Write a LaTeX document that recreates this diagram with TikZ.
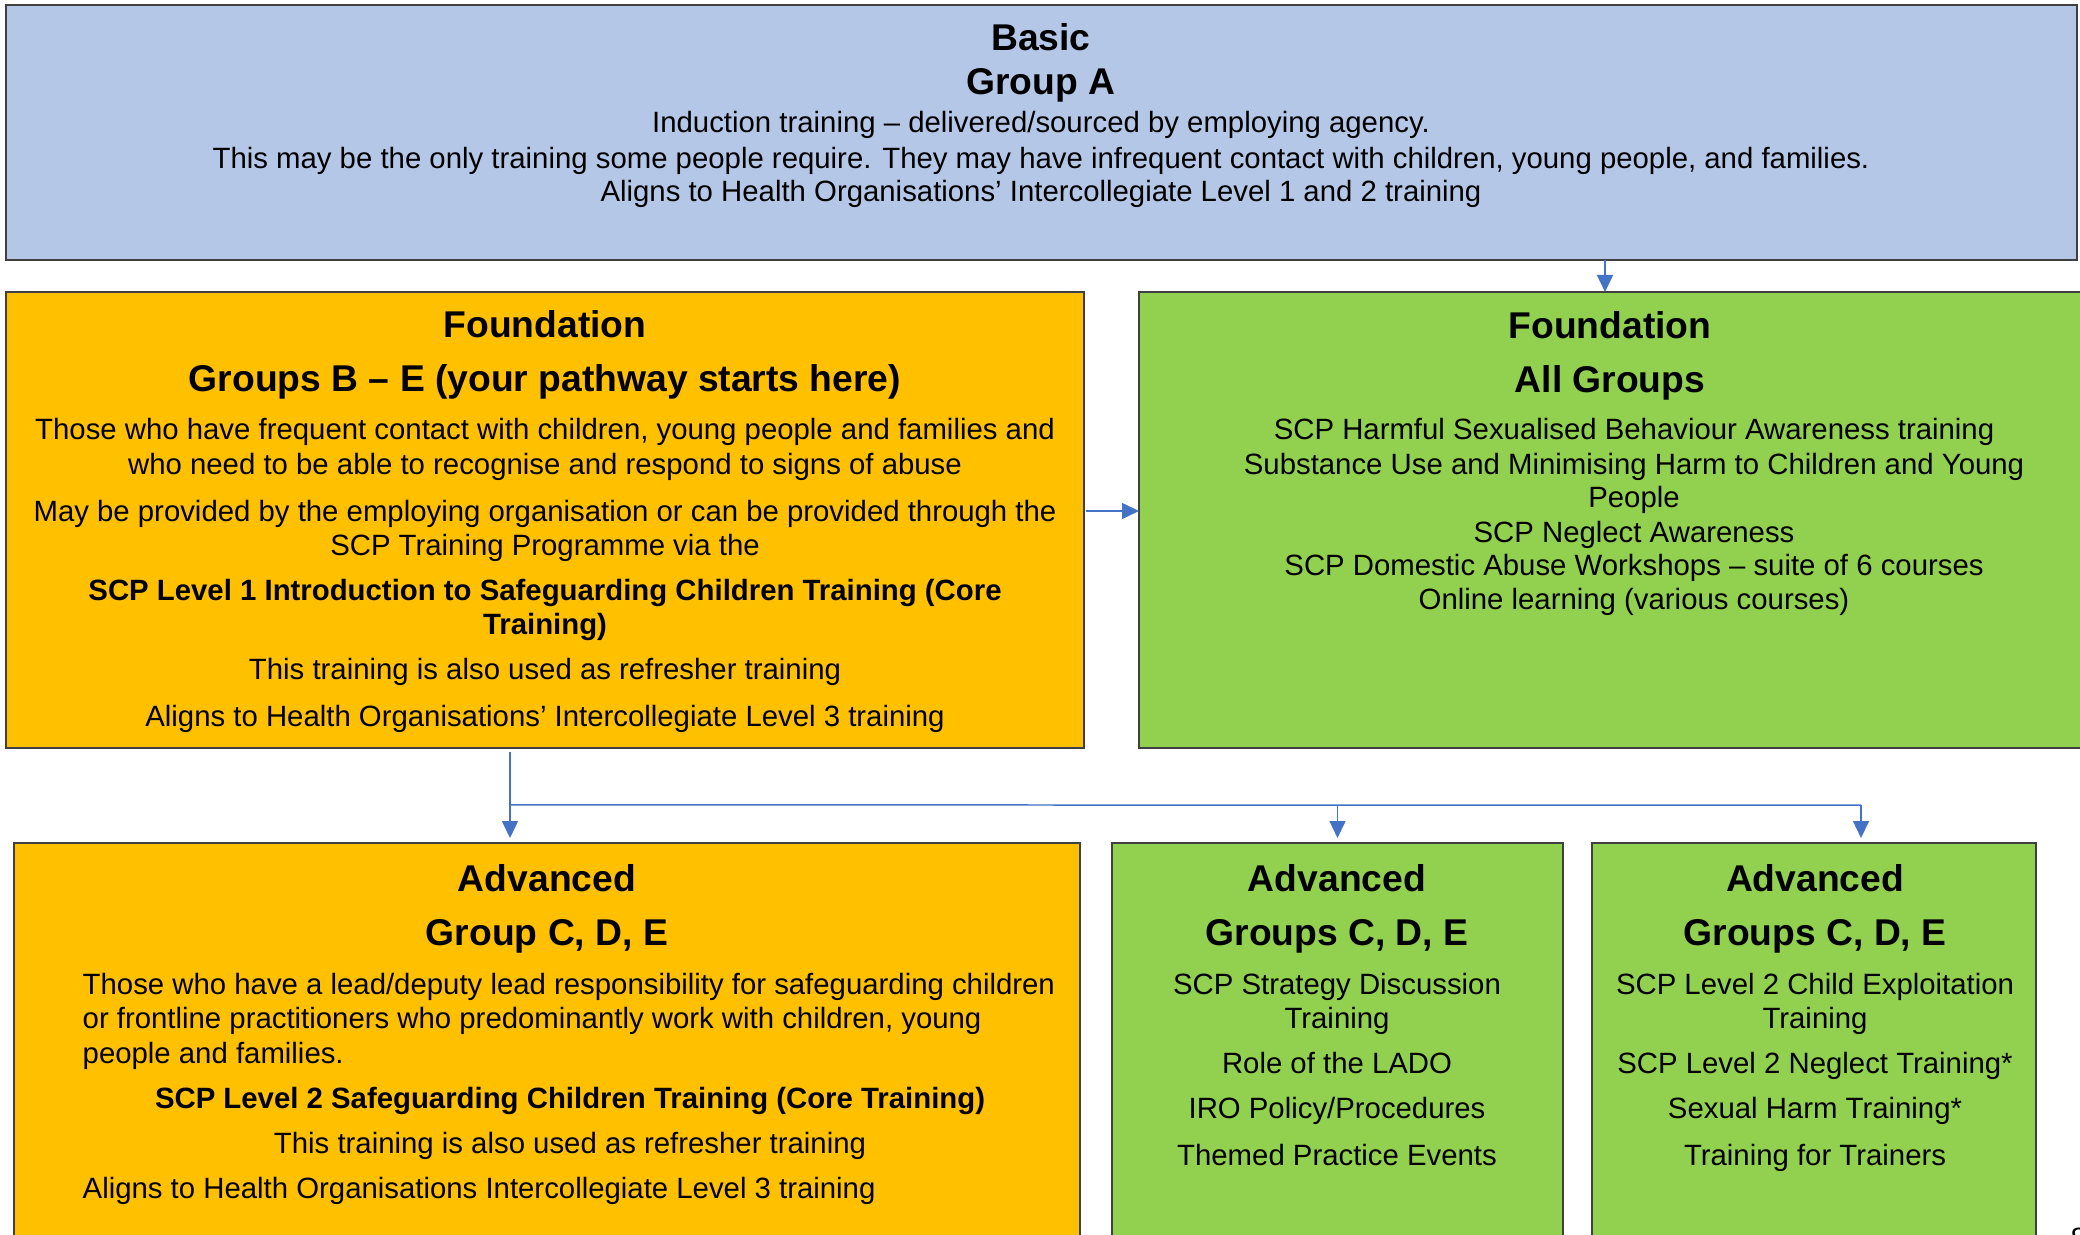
\documentclass[tikz,border=0pt]{standalone}
\usepackage{fontspec}
\setmainfont{Liberation Sans}
\usetikzlibrary{arrows.meta,positioning,calc}
\definecolor{basicblue}{HTML}{B4C7E7}
\definecolor{fndorange}{HTML}{FFC000}
\definecolor{fndgreen}{HTML}{92D050}
\definecolor{linkblue}{HTML}{4472C4}

\begin{document}
\begin{tikzpicture}[x=0.1mm,y=-0.1mm,
	box/.style={draw=black!75,line width=0.2mm,anchor=north west,inner sep=0pt,outer sep=0pt},
	head/.style={anchor=base,inner sep=0pt,yshift=-0.2mm,font=\fontsize{10.6}{12}\selectfont\bfseries},
	body/.style={anchor=base,inner sep=0pt,yshift=-0.2mm,font=\fontsize{8.35}{9.8}\selectfont},
	link/.style={draw=linkblue,line width=0.15mm},
	arr/.style={link,-{Triangle[width=1.6mm,length=1.7mm]}},]
	\useasboundingbox (0,0) rectangle (2080,1235);
	\clip (0,0) rectangle (2080,1235);
	\node [box,fill=basicblue,minimum width=207.1mm,minimum height=25.5mm] (basic) at (6,5) {};
	\node [box,fill=fndorange,minimum width=107.8mm,minimum height=45.6mm] (fndbe) at (6,292) {};
	\node [box,fill=fndgreen,minimum width=95mm,minimum height=45.6mm] (fndall) at (1139,292) {};
	\node [box,fill=fndorange,minimum width=106.6mm,minimum height=45mm] (advcde) at (14,843) {};
	\node [box,fill=fndgreen,minimum width=45.1mm,minimum height=45mm] (advmid) at (1112,843) {};
	\node [box,fill=fndgreen,minimum width=44.4mm,minimum height=45mm] (advrt) at (1592,843) {};

	\node [head] (basic-h1) at (1041,49) {Basic};
	\node [head] (basic-h2) at (1041,93) {Group A};
	\foreach \yy/\txt [count=\i] in {131/{Induction training – delivered/sourced by employing agency.},
		167/{This may be the only training some people require. They may have infrequent contact with children, young people, and families.},
		200/{Aligns to Health Organisations’ Intercollegiate Level 1 and 2 training}}
		\node [body] (basic-b\i) at (1041,\yy) {\txt};

	\node [head] (fndbe-h1) at (545,336) {Foundation};
	\node [head] (fndbe-h2) at (545,390) {Groups B – E (your pathway starts here)};
	\foreach \yy/\txt [count=\i] in {438/{Those who have frequent contact with children, young people and families and},
		473/{who need to be able to recognise and respond to signs of abuse},
		519/{May be provided by the employing organisation or can be provided through the},
		553/{SCP Training Programme via the},
		598/{\bfseries SCP Level 1 Introduction to Safeguarding Children Training (Core},
		632/{\bfseries Training)},
		677/{This training is also used as refresher training},
		724/{Aligns to Health Organisations’ Intercollegiate Level 3 training}}
		\node [body] (fndbe-b\i) at (545,\yy) {\txt};

	\node [head] (fndall-h1) at (1610,337) {Foundation};
	\node [head] (fndall-h2) at (1610,391) {All Groups};
	\foreach \yy/\txt [count=\i] in {438/{SCP Harmful Sexualised Behaviour Awareness training},
		473/{Substance Use and Minimising Harm to Children and Young},
		506/{People},
		541/{SCP Neglect Awareness},
		574/{SCP Domestic Abuse Workshops – suite of 6 courses},
		608/{Online learning (various courses)}}
		\node [body] (fndall-b\i) at (1634,\yy) {\txt};

	\node [head] (advcde-h1) at (547,889) {Advanced};
	\node [head] (advcde-h2) at (547,943) {Group C, D, E};
	\foreach \yy/\txt [count=\i] in {992/{Those who have a lead/deputy lead responsibility for safeguarding children},
		1026/{or frontline practitioners who predominantly work with children, young},
		1061/{people and families.}}
		\node [body,anchor=base west] (advcde-b\i) at (82,\yy) {\txt};
	\node [body] (advcde-core) at (570,1106) {\bfseries SCP Level 2 Safeguarding Children Training (Core Training)};
	\node [body] (advcde-ref) at (570,1151) {This training is also used as refresher training};
	\node [body,anchor=base west] (advcde-ali) at (82,1196) {Aligns to Health Organisations Intercollegiate Level 3 training};

	\node [head] (advmid-h1) at (1337,889) {Advanced};
	\node [head] (advmid-h2) at (1337,943) {Groups C, D, E};
	\foreach \yy/\txt [count=\i] in {992/{SCP Strategy Discussion},1026/{Training},1071/{Role of the LADO},
		1116/{IRO Policy/Procedures},1163/{Themed Practice Events}}
		\node [body] (advmid-b\i) at (1337,\yy) {\txt};

	\node [head] (advrt-h1) at (1815,889) {Advanced};
	\node [head] (advrt-h2) at (1815,943) {Groups C, D, E};
	\foreach \yy/\txt [count=\i] in {992/{SCP Level 2 Child Exploitation},1026/{Training},1071/{SCP Level 2 Neglect Training*},
		1116/{Sexual Harm Training*},1163/{Training for Trainers}}
		\node [body] (advrt-b\i) at (1815,\yy) {\txt};

	\node [body,anchor=base west] (pgno) at (2070,1246) {8};

	\draw [arr] ([xshift=-0.9mm]basic.south -| fndall.north) -- ([xshift=-0.9mm]fndall.north);
	\draw [arr,shorten <=0.2mm] ([yshift=0.9mm]fndbe.east) -- ([yshift=0.9mm]fndbe.east -| fndall.west);
	\draw [arr,shorten <=0.4mm,shorten >=0.5mm] ([xshift=-3.5mm]fndbe.south) -- ([xshift=-3.5mm]fndbe.south |- advcde.north);
	\coordinate (split) at ([xshift=-3.5mm,yshift=-5.7mm]fndbe.south);
	\coordinate (splitr) at (1861,805);
	\draw [link] (split) -- (splitr);
	\draw [arr,shorten >=0.5mm] (split -| advmid.north) -- (advmid.north);
	\draw [arr,shorten >=0.5mm] (splitr) -- (splitr |- advrt.north);
\end{tikzpicture}
\end{document}
